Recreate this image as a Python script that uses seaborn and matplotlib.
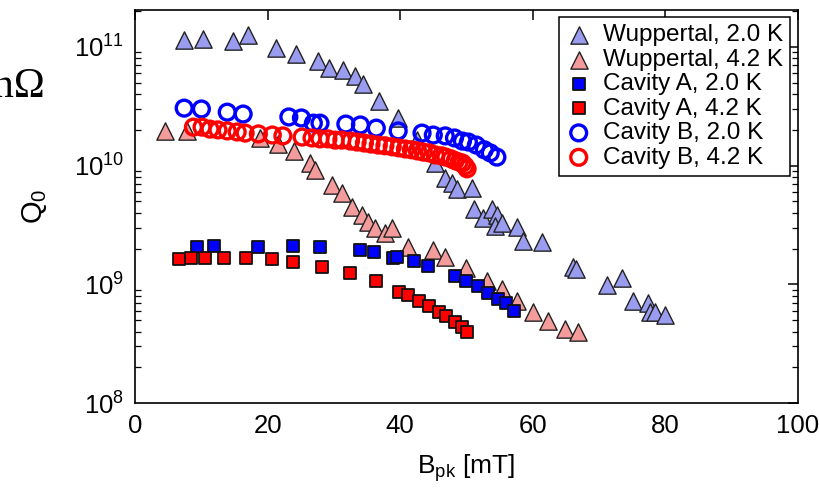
import matplotlib
matplotlib.use("Agg")
import matplotlib.pyplot as plt
import seaborn as sns
import pandas as pd
from matplotlib.ticker import LogLocator, NullFormatter, FixedLocator

sns.set_theme(style="white")
plt.rcParams["font.family"] = ["Liberation Sans", "DejaVu Sans"]
plt.rcParams["mathtext.default"] = "regular"
for key in ["text.color", "axes.labelcolor", "xtick.color", "ytick.color"]:
    plt.rcParams[key] = "black"

# Peak magnetic field B_pk [mT] and quality factor Q0 for each measurement series
wup20_b = [7.4, 10.3, 14.8, 17.1, 21.3, 24.3, 27.6, 29.3, 31.4, 33.2, 34.4, 36.8,
           39.7, 42.6, 45.3, 46.8, 47.8, 48.6, 50.9, 51.2, 52.5, 53.9, 54.6, 54.3,
           55.4, 57.7, 58.6, 61.4, 66.1, 66.6, 71.2, 73.5, 75.2, 77.4, 77.7, 78.5, 80.0]
wup20_q = [1.14e11, 1.16e11, 1.12e11, 1.25e11, 9.75e10, 8.7e10, 7.6e10, 6.6e10,
           6.4e10, 5.7e10, 4.9e10, 3.5e10, 2.5e10, 1.65e10, 1.05e10, 7.9e9, 7.2e9,
           6.3e9, 6.5e9, 4.3e9, 3.6e9, 4.3e9, 3.85e9, 3.1e9, 3.3e9, 3.05e9, 2.33e9,
           2.28e9, 1.41e9, 1.36e9, 9.9e8, 1.14e9, 7.2e8, 7.0e8, 5.8e8, 5.8e8, 5.5e8]

wup42_b = [4.5, 7.8, 18.9, 21.6, 24.0, 26.4, 27.2, 29.7, 31.2, 32.8, 34.3, 35.2,
           36.2, 37.7, 38.8, 41.2, 45.0, 46.8, 50.0, 53.1, 55.4, 57.7, 60.1, 62.3,
           64.9, 66.9]
wup42_q = [1.96e10, 1.96e10, 1.71e10, 1.52e10, 1.33e10, 1.05e10, 9.2e9, 6.9e9,
           5.9e9, 4.5e9, 3.85e9, 3.37e9, 3.0e9, 2.72e9, 3.0e9, 2.08e9, 1.96e9,
           1.71e9, 1.38e9, 1.06e9, 9.2e8, 7.2e8, 5.9e8, 4.9e8, 4.2e8, 4.0e8]

cavA20_b = [9.4, 11.9, 18.6, 23.8, 27.9, 34.0, 36.1, 38.9, 39.5, 42.1, 44.2, 48.3,
            50.0, 51.8, 53.3, 54.8, 56.0, 57.2]
cavA20_q = [2.07e9, 2.11e9, 2.07e9, 2.11e9, 2.07e9, 1.96e9, 1.88e9, 1.68e9, 1.71e9,
            1.58e9, 1.44e9, 1.18e9, 1.07e9, 9.6e8, 8.5e8, 7.6e8, 7.0e8, 6.0e8]

cavA42_b = [6.6, 8.5, 10.6, 13.4, 16.8, 20.7, 23.8, 28.2, 32.5, 36.4, 39.8, 41.2,
            42.9, 44.4, 45.9, 46.9, 48.3, 49.4, 50.1]
cavA42_q = [1.64e9, 1.68e9, 1.68e9, 1.68e9, 1.68e9, 1.64e9, 1.55e9, 1.41e9, 1.25e9,
            1.07e9, 8.7e8, 8.2e8, 7.3e8, 6.6e8, 5.8e8, 5.4e8, 4.8e8, 4.4e8, 4.0e8]

cavB20_b = [7.4, 10.0, 13.9, 16.3, 23.2, 25.1, 26.9, 27.9, 31.8, 34.0, 36.4, 39.7,
            43.3, 45.0, 46.8, 48.2, 49.4, 50.3, 51.5, 52.7, 53.6, 54.6]
cavB20_q = [3.05e10, 3.0e10, 2.82e10, 2.72e10, 2.57e10, 2.52e10, 2.28e10, 2.28e10,
            2.24e10, 2.20e10, 2.07e10, 1.96e10, 1.88e10, 1.81e10, 1.78e10, 1.71e10,
            1.61e10, 1.58e10, 1.49e10, 1.36e10, 1.28e10, 1.18e10]

cavB42_b = [8.8, 10.1, 11.3, 12.5, 13.9, 15.4, 16.6, 18.6, 20.7, 22.3, 25.2, 26.7,
            27.9, 29.1, 30.2, 31.2, 32.5, 33.5, 34.6, 35.6, 36.7, 37.7, 38.8, 39.8,
            40.8, 41.7, 42.6, 43.5, 44.4, 45.3, 46.2, 46.9, 47.7, 48.3, 48.9, 49.4,
            49.8, 50.1]
cavB42_q = [2.11e10, 2.11e10, 2.03e10, 2.0e10, 1.96e10, 1.92e10, 1.88e10, 1.85e10,
            1.81e10, 1.78e10, 1.74e10, 1.71e10, 1.68e10, 1.68e10, 1.64e10, 1.64e10,
            1.61e10, 1.58e10, 1.55e10, 1.52e10, 1.49e10, 1.47e10, 1.44e10, 1.41e10,
            1.38e10, 1.36e10, 1.33e10, 1.30e10, 1.28e10, 1.23e10, 1.21e10, 1.18e10,
            1.14e10, 1.10e10, 1.07e10, 1.05e10, 9.95e9, 9.4e9]

labels = ["Wuppertal, 2.0 K", "Wuppertal, 4.2 K", "Cavity A, 2.0 K",
          "Cavity A, 4.2 K", "Cavity B, 2.0 K", "Cavity B, 4.2 K"]
x_ticks = [0, 20, 40, 60, 80, 100]

series = [
    (wup20_b, wup20_q, dict(marker="^", s=155, color="#9a9cf0", edgecolor="#222222", linewidth=1.0)),
    (wup42_b, wup42_q, dict(marker="^", s=155, color="#f49c9c", edgecolor="#222222", linewidth=1.0)),
    (cavA20_b, cavA20_q, dict(marker="s", s=85, color="#0000ff", edgecolor="#111111", linewidth=1.3)),
    (cavA42_b, cavA42_q, dict(marker="s", s=85, color="#ff0000", edgecolor="#111111", linewidth=1.3)),
    (cavB20_b, cavB20_q, dict(marker="o", s=130, facecolor="none", edgecolor="#0000ff", linewidth=2.4)),
    (cavB42_b, cavB42_q, dict(marker="o", s=130, facecolor="none", edgecolor="#ff0000", linewidth=2.4)),
]

fig = plt.figure(figsize=(8.19, 4.94), dpi=100)
ax = fig.add_axes([0.165, 0.184, 0.809, 0.796])

for (b, q, style), label in zip(series, labels):
    df = pd.DataFrame({"B_pk": b, "Q0": q})
    sns.scatterplot(data=df, x="B_pk", y="Q0", ax=ax, label=label, zorder=3, **style)

ax.set_yscale("log")
ax.set_xlim(0, 100)
ax.set_ylim(1e8, 2.05e11)
ax.xaxis.set_major_locator(FixedLocator(x_ticks))
ax.yaxis.set_major_locator(LogLocator(base=10, numticks=10))
ax.yaxis.set_minor_locator(LogLocator(base=10, subs=range(2, 10), numticks=20))
ax.yaxis.set_minor_formatter(NullFormatter())

ax.tick_params(axis="both", which="major", direction="in", length=7, width=1.1,
               top=True, right=True, labelsize=18.5, pad=8, color="black",
               labelcolor="black")
ax.tick_params(axis="y", which="minor", direction="in", length=4, width=0.9,
               left=True, right=True, color="black")
for sp in ax.spines.values():
    sp.set_color("black")
    sp.set_linewidth(1.2)

ax.set_xlabel("B$_{pk}$ [mT]", fontsize=19, labelpad=10, color="black")
ax.set_ylabel("Q$_0$", fontsize=21, labelpad=18, color="black")

leg = ax.legend(loc="upper right", fontsize=17.5, frameon=True, fancybox=False,
                framealpha=1, edgecolor="black", borderaxespad=0.3,
                handlelength=1.0, handletextpad=0.5, labelspacing=0.1,
                borderpad=0.3)
leg.get_frame().set_linewidth(1.1)
for t in leg.get_texts():
    t.set_color("black")

fig.text(0.055, 0.804, "nΩ", fontsize=30, ha="right", va="baseline",
         color="black", family=["Liberation Serif", "DejaVu Serif"])

fig.savefig("out.png", dpi=100)
